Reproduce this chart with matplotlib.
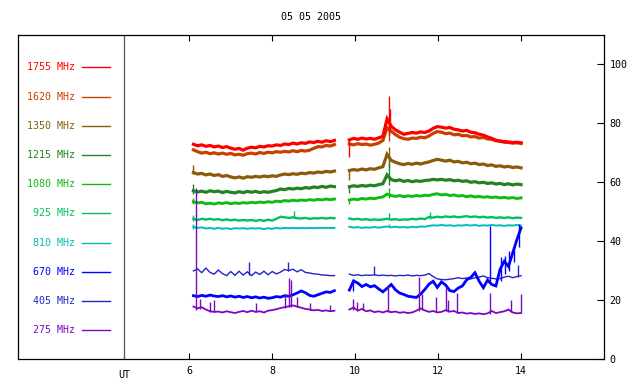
"""Multi-frequency radio flux, 05 05 2005 (gnuplot-style recreation)."""

import matplotlib
matplotlib.use("Agg")
import matplotlib.pyplot as plt
import matplotlib.transforms as mtransforms
import numpy as np

TITLE = "05 05 2005"

FREQS = ["1755 MHz", "1620 MHz", "1350 MHz", "1215 MHz", "1080 MHz",
         "925 MHz", "810 MHz", "670 MHz", "405 MHz", "275 MHz"]
COLORS = ["#ff0000", "#c84000", "#8a5c0a", "#238223", "#10bc10",
          "#00c060", "#00bcbc", "#0000ff", "#2424c4", "#7a08c0"]

XTICKS = [6, 8, 10, 12, 14]
YTICKS = [0, 20, 40, 60, 80, 100]

# sampling times (UT hours) of the two observing segments
T1 = np.round(np.arange(6.1, 9.55, 0.1), 2)      # 35 samples
T2 = np.round(np.linspace(9.86, 14.0, 42), 3)     # 42 samples

# ---- segment 1 (6.1 - 9.5 UT) ----
S1_1755 = [72.9, 72.4, 72.7, 72.2, 72.5, 72.0, 72.3, 71.8, 72.1, 71.6, 71.2, 71.5,
           70.9, 71.6, 71.9, 71.7, 72.2, 72.0, 72.4, 72.3, 72.7, 72.5, 73.0, 72.8,
           73.3, 73.0, 73.4, 73.2, 73.7, 73.5, 73.9, 73.6, 74.1, 73.8, 74.2]
S1_1620 = [71.0, 70.4, 69.9, 70.2, 69.7, 70.0, 69.6, 69.9, 69.5, 69.8, 69.3, 69.5,
           69.2, 69.7, 69.9, 69.6, 70.1, 69.8, 70.2, 70.0, 70.4, 70.2, 70.5, 70.3,
           70.7, 70.4, 70.8, 70.6, 70.9, 71.5, 72.1, 72.0, 72.5, 72.3, 72.8]
S1_1350 = [63.3, 62.8, 63.0, 62.5, 62.8, 62.3, 62.6, 62.0, 62.3, 61.8, 61.5, 61.8,
           61.4, 61.9, 61.7, 62.0, 61.8, 62.1, 61.9, 62.2, 62.0, 62.5, 62.8, 62.6,
           62.9, 62.7, 63.1, 62.9, 63.3, 63.1, 63.5, 63.3, 63.7, 63.5, 63.8]
S1_1215 = [57.1, 56.7, 57.0, 56.6, 57.1, 56.8, 57.0, 56.5, 56.9, 56.6, 56.4, 56.8,
           56.5, 56.9, 56.6, 56.9, 56.5, 56.8, 56.6, 56.9, 57.2, 57.7, 57.5, 57.9,
           57.7, 58.0, 57.8, 58.2, 58.0, 58.4, 58.2, 58.6, 58.3, 58.7, 58.5]
S1_1080 = [53.4, 53.0, 53.2, 52.7, 52.9, 52.6, 53.0, 52.8, 53.1, 52.7, 53.0, 52.8,
           53.1, 52.9, 53.2, 53.0, 53.3, 53.1, 53.4, 53.2, 53.6, 53.4, 53.8, 53.6,
           53.9, 53.7, 54.0, 53.8, 54.1, 53.9, 54.2, 54.0, 54.3, 54.1, 54.3]
S1_925 = [47.6, 47.2, 47.6, 47.3, 47.6, 47.3, 47.5, 47.1, 47.4, 47.1, 47.3, 47.0,
          47.2, 47.0, 47.2, 46.9, 47.2, 46.9, 47.3, 47.0, 47.6, 48.3, 48.1, 47.9,
          48.1, 47.8, 47.7, 47.9, 47.6, 47.8, 47.7, 47.9, 47.7, 47.9, 47.8]
S1_810 = [44.8, 44.5, 44.7, 44.3, 44.5, 44.2, 44.5, 44.2, 44.4, 44.1, 44.4, 44.3,
          44.4, 44.2, 44.4, 44.3, 44.4, 44.1, 44.4, 44.2, 44.5, 44.3, 44.5, 44.4,
          44.5, 44.4, 44.5, 44.4, 44.5, 44.4, 44.5, 44.5, 44.5, 44.5, 44.5]
S1_670 = [21.5, 21.2, 21.6, 21.3, 21.7, 21.4, 21.2, 21.5, 21.1, 21.4, 21.0, 21.3,
          20.9, 21.2, 20.8, 21.1, 20.7, 21.0, 20.6, 20.8, 21.2, 21.0, 21.5, 21.3,
          21.8, 22.4, 23.1, 22.5, 21.6, 21.3, 21.8, 22.3, 22.8, 22.6, 23.2]
S1_405 = [29.9, 30.6, 29.3, 30.9, 29.4, 28.8, 30.2, 29.0, 28.3, 29.7, 28.4, 29.8,
          28.5, 29.6, 28.3, 29.5, 28.7, 29.8, 28.6, 29.7, 28.9, 29.5, 30.4, 30.0,
          30.5, 29.6, 30.3, 29.4, 29.2, 28.9, 28.8, 28.5, 28.5, 28.3, 28.3]
S1_275 = [17.8, 17.2, 17.6, 16.8, 16.2, 16.0, 16.1, 15.8, 16.2, 15.9, 15.6, 16.0,
          16.3, 15.9, 16.4, 16.0, 16.2, 15.8, 16.4, 16.6, 16.9, 17.3, 17.6, 17.9,
          18.2, 17.8, 17.4, 17.0, 16.8, 16.5, 16.7, 16.3, 16.5, 16.2, 16.4]

# ---- segment 2 (9.86 - 14.0 UT) ----
S2_1755 = [74.4, 74.9, 74.6, 75.0, 74.7, 74.9, 74.6, 75.1, 75.6, 81.5, 79.0, 77.8,
           77.0, 76.3, 76.6, 76.9, 76.7, 77.1, 76.9, 77.4, 78.3, 78.9, 78.7, 78.4,
           78.6, 78.0, 77.8, 77.4, 77.6, 77.0, 76.8, 76.3, 76.0, 75.4, 74.9, 74.3,
           74.0, 73.8, 73.7, 73.5, 73.6, 73.4]
S2_1620 = [73.0, 72.7, 73.1, 72.8, 73.0, 72.6, 72.9, 73.3, 74.2, 78.5, 77.3, 76.2,
           75.3, 74.8, 74.6, 75.0, 74.9, 75.3, 75.1, 75.7, 76.6, 77.2, 77.0, 76.5,
           76.7, 76.1, 76.3, 75.8, 75.9, 75.4, 75.5, 75.0, 75.2, 74.7, 74.6, 74.1,
           73.9, 73.6, 73.5, 73.3, 73.4, 73.2]
S2_1350 = [64.0, 64.3, 64.1, 64.5, 64.2, 64.6, 64.4, 64.9, 65.3, 69.5, 67.4, 66.8,
           66.3, 66.0, 66.4, 66.1, 66.5, 66.2, 66.6, 66.9, 67.4, 67.8, 67.5, 67.2,
           67.5, 66.9, 67.1, 66.6, 66.8, 66.3, 66.5, 66.0, 66.2, 65.7, 65.9, 65.4,
           65.6, 65.2, 65.4, 65.0, 65.2, 64.9]
S2_1215 = [58.5, 58.8, 58.6, 58.9, 58.7, 59.0, 58.8, 59.2, 59.5, 62.5, 60.9, 60.5,
           60.8, 60.3, 60.6, 60.2, 60.5, 60.3, 60.6, 60.7, 61.0, 60.8, 61.0, 60.7,
           60.9, 60.5, 60.7, 60.3, 60.5, 60.0, 60.2, 59.8, 60.0, 59.6, 59.8, 59.4,
           59.6, 59.2, 59.5, 59.1, 59.4, 59.2]
S2_1080 = [54.0, 54.3, 54.1, 54.5, 54.3, 54.6, 54.4, 54.8, 55.0, 56.0, 55.5, 55.2,
           55.5, 55.1, 55.4, 55.2, 55.5, 55.3, 55.6, 55.5, 55.9, 56.1, 55.7, 55.9,
           55.5, 55.7, 55.3, 55.5, 55.1, 55.4, 55.0, 55.2, 54.9, 55.1, 54.8, 55.0,
           54.7, 54.9, 54.6, 54.8, 54.5, 54.7]
S2_925 = [47.7, 47.4, 47.6, 47.3, 47.5, 47.2, 47.4, 47.2, 47.4, 47.6, 47.3, 47.5,
          47.2, 47.4, 47.3, 47.6, 47.4, 47.7, 47.5, 48.2, 48.0, 48.3, 48.1, 48.4,
          48.2, 48.4, 48.1, 48.3, 48.5, 48.2, 48.4, 48.1, 48.3, 48.0, 48.2, 47.9,
          48.1, 47.9, 48.1, 47.8, 48.0, 47.9]
S2_810 = [44.9, 44.6, 44.8, 44.5, 44.7, 44.6, 44.8, 44.6, 44.8, 45.0, 44.7, 44.9,
          44.7, 44.8, 44.6, 44.9, 44.7, 45.0, 44.9, 45.2, 45.4, 45.3, 45.5, 45.3,
          45.4, 45.2, 45.4, 45.3, 45.5, 45.3, 45.5, 45.2, 45.4, 45.3, 45.5, 45.3,
          45.4, 45.2, 45.4, 45.3, 45.5, 45.3]
S2_670 = [23.4, 26.5, 25.8, 24.6, 25.3, 24.5, 24.9, 23.8, 22.8, 24.0, 25.3, 23.5,
          22.4, 21.9, 21.3, 21.1, 20.9, 22.0, 23.6, 25.4, 26.4, 24.3, 26.2, 25.1,
          23.2, 22.9, 24.1, 24.8, 26.9, 27.7, 29.3, 26.4, 24.2, 26.8, 25.3, 24.8,
          30.5, 33.2, 31.4, 36.0, 40.5, 44.5]
S2_405 = [28.8, 28.4, 28.6, 28.3, 28.5, 28.4, 28.6, 28.3, 28.5, 28.3, 28.4, 28.2,
          28.4, 28.3, 28.5, 28.2, 28.4, 28.3, 28.5, 29.0, 28.0, 27.2, 27.0, 26.9,
          27.1, 27.3, 27.6, 27.3, 27.5, 27.2, 27.6, 27.8, 28.2, 27.6, 27.4, 27.2,
          27.3, 27.8, 28.1, 27.6, 28.0, 28.3]
S2_275 = [16.8, 17.5, 16.4, 17.0, 16.2, 16.5, 15.9, 16.2, 15.8, 16.3, 15.9, 16.1,
          15.7, 15.9, 15.6, 15.8, 16.4, 17.2, 16.5, 16.0, 16.3, 15.8, 16.0, 16.6,
          16.1, 16.3, 15.6, 15.8, 15.4, 15.6, 15.3, 15.5, 15.2, 15.5, 16.3, 15.6,
          15.9, 16.2, 16.8, 15.8, 15.5, 15.6]

# short spikes / segment-start transients: (UT, low, high)
SPK_1755 = [(9.86, 68.6, 74.5), (10.82, 76.0, 89.2), (10.84, 78.0, 85.0)]
SPK_1620 = [(10.82, 74.0, 82.7)]
SPK_1350 = [(6.1, 62.8, 66.0), (9.86, 60.7, 64.2), (10.82, 65.0, 72.0)]
SPK_1215 = [(6.1, 55.9, 59.5), (9.86, 56.3, 58.7), (10.82, 59.0, 66.9)]
SPK_1080 = [(6.1, 52.6, 54.5), (9.86, 52.5, 54.2), (10.82, 54.8, 57.9)]
SPK_925 = [(6.1, 46.9, 49.0), (8.52, 47.8, 50.2), (10.82, 47.4, 49.6),
           (11.8, 47.6, 50.0)]
SPK_810 = [(6.1, 44.3, 46.0), (10.82, 44.8, 45.8)]
SPK_670 = [(9.95, 23.0, 27.2), (13.26, 26.0, 45.3), (13.52, 26.5, 34.5),
           (13.62, 29.0, 35.0), (13.72, 30.0, 36.5), (13.82, 33.0, 38.0),
           (13.95, 38.0, 46.0)]
SPK_405 = [(7.43, 28.6, 32.9), (8.38, 29.8, 33.1), (10.45, 28.4, 31.6),
           (13.92, 28.0, 31.9)]
SPK_275 = [(6.17, 16.5, 58.0), (6.25, 17.0, 20.5), (6.5, 16.0, 19.5),
           (6.6, 16.0, 20.0), (7.6, 16.0, 19.0), (8.3, 17.3, 22.0),
           (8.4, 17.8, 27.5), (8.45, 17.8, 26.8), (8.6, 17.5, 21.0),
           (8.9, 16.8, 19.0), (9.4, 16.2, 18.5), (9.95, 16.8, 20.3),
           (10.05, 16.5, 19.5), (10.2, 16.5, 19.0), (10.8, 16.0, 25.2),
           (11.55, 16.4, 27.8), (11.62, 16.8, 22.0), (11.95, 16.0, 21.2),
           (12.2, 16.2, 24.4), (12.25, 16.0, 20.0), (12.45, 16.0, 22.5),
           (13.25, 15.4, 22.3), (13.75, 16.0, 20.0), (14.0, 15.6, 22.0)]

SEG1 = [S1_1755, S1_1620, S1_1350, S1_1215, S1_1080, S1_925, S1_810, S1_670, S1_405, S1_275]
SEG2 = [S2_1755, S2_1620, S2_1350, S2_1215, S2_1080, S2_925, S2_810, S2_670, S2_405, S2_275]
SPIKES = [SPK_1755, SPK_1620, SPK_1350, SPK_1215, SPK_1080, SPK_925, SPK_810,
          SPK_670, SPK_405, SPK_275]
LWIDTHS = [2.3, 2.3, 2.3, 2.3, 2.1, 1.7, 1.4, 2.0, 1.0, 1.3]
DRAW_ORDER = [1, 0, 2, 3, 4, 5, 6, 8, 7, 9]

FONT = "DejaVu Sans Mono"
FS = 7.2

fig = plt.figure(figsize=(6.4, 3.84), dpi=100)
ax = fig.add_axes([18 / 640, 1 - 359 / 384, 586 / 640, 324 / 384])

for i in DRAW_ORDER:
    c = COLORS[i]
    ax.plot(T1, SEG1[i], color=c, lw=LWIDTHS[i], solid_joinstyle="miter")
    ax.plot(T2, SEG2[i], color=c, lw=LWIDTHS[i], solid_joinstyle="miter")
    for t, lo, hi in SPIKES[i]:
        ax.vlines(t, lo, hi, color=c, lw=1.0)

ax.set_xlim(1.87, 16.0)
ax.set_ylim(0, 110)

# separator between legend area and data
ax.axvline(4.43, color="#555555", lw=0.9)

# legend column
for k, (lab, c) in enumerate(zip(FREQS, COLORS)):
    y = 0.9003 - k * 0.0902
    ax.text(0.0973, y, lab, transform=ax.transAxes, ha="right", va="center",
            color=c, family=FONT, fontsize=FS)
    ax.plot([0.1092, 0.157], [y, y], transform=ax.transAxes, color=c, lw=1.0)

ax.set_xticks(XTICKS)
ax.set_xticklabels([str(v) for v in XTICKS], family=FONT, fontsize=FS)
ax.tick_params(axis="x", direction="in", top=True, bottom=True, length=4,
               width=0.8, pad=5)
ax.yaxis.tick_right()
ax.set_yticks(YTICKS)
ax.set_yticklabels([str(v) for v in YTICKS], family=FONT, fontsize=FS)
ax.tick_params(axis="y", direction="in", left=False, right=True, length=5,
               width=0.8, pad=4)

trans = mtransforms.blended_transform_factory(ax.transData, ax.transAxes)
ax.text(4.43, -0.05, "UT", transform=trans, ha="center", va="center",
        family=FONT, fontsize=FS)

for sp in ax.spines.values():
    sp.set_linewidth(0.9)

fig.text(311 / 640, 1 - 17.5 / 384, TITLE, ha="center", va="center",
         family=FONT, fontsize=FS)

fig.savefig("out.png", dpi=100)
